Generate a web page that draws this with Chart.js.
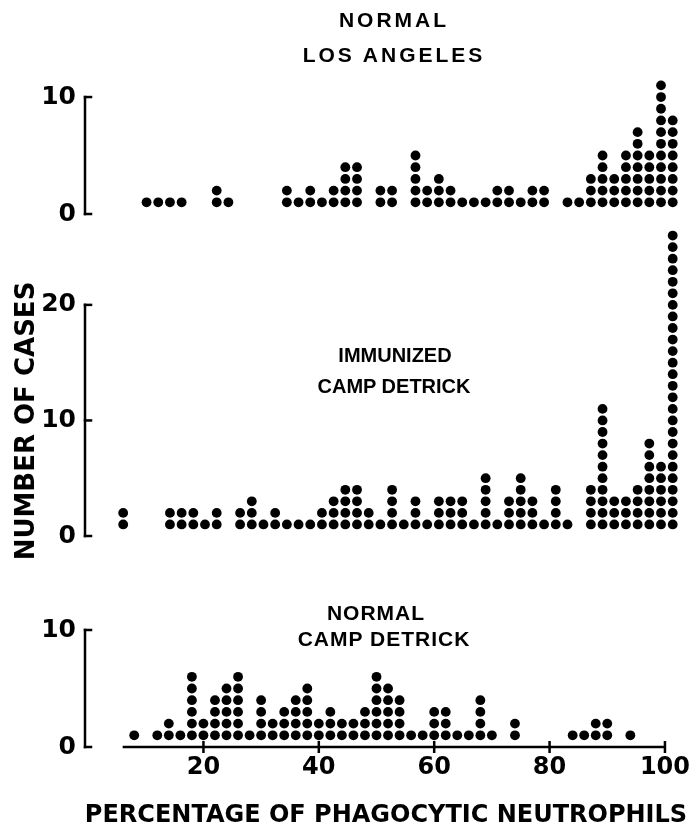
<!DOCTYPE html>
<html>
<head>
<meta charset="utf-8">
<script src="https://cdn.jsdelivr.net/npm/chart.js@4.4.0/dist/chart.umd.min.js"></script>
<style>
  html, body { margin: 0; padding: 0; background: #fff; }
  #page { position: relative; width: 696px; height: 827px; overflow: hidden; font-family: "DejaVu Sans", sans-serif; font-weight: bold; color: #000; }
  canvas { position: absolute; left: 0; }
  .lbl { position: absolute; width: 400px; text-align: center; font-family: "Liberation Sans", sans-serif; font-size: 21px; line-height: 24px; white-space: nowrap; }
  #xtitle { position: absolute; left: 0; width: 772px; top: 800px; text-align: center; font-size: 24px; line-height: 28px; white-space: nowrap; }
  #ytitle { position: absolute; left: -125px; top: 406px; width: 300px; height: 30px; line-height: 30px; text-align: center; font-size: 26px; white-space: nowrap; transform: rotate(-90deg); }
</style>
</head>
<body>
<div id="page">
  <canvas id="topChart" width="696" height="240" style="top:0px"></canvas>
  <canvas id="midChart" width="696" height="360" style="top:200px"></canvas>
  <canvas id="botChart" width="696" height="267" style="top:560px"></canvas>

  <div class="lbl" style="left:194px; top:8px; letter-spacing:3px">NORMAL</div>
  <div class="lbl" style="left:194px; top:43px; letter-spacing:3px">LOS ANGELES</div>
  <div class="lbl" style="left:195px; top:343px; font-size:20px">IMMUNIZED</div>
  <div class="lbl" style="left:194px; top:374px; font-size:20px">CAMP DETRICK</div>
  <div class="lbl" style="left:176px; top:601px; letter-spacing:1px">NORMAL</div>
  <div class="lbl" style="left:184px; top:627px; letter-spacing:1px">CAMP DETRICK</div>
  <div id="ytitle">NUMBER OF CASES</div>
  <div id="xtitle">PERCENTAGE OF PHAGOCYTIC NEUTROPHILS</div>
</div>

<script>
// percentage of phagocytic neutrophils (2% steps) and number of cases at each
const laPct   = [10, 12, 14, 16, 22, 24, 34, 36, 38, 40, 42, 44, 46, 50, 52, 56, 58, 60, 62, 64, 66, 68, 70, 72, 74, 76, 78, 82, 84, 86, 88, 90, 92, 94, 96, 98, 100];
const laCases = [ 1,  1,  1,  1,  2,  1,  2,  1,  2,  1,  2,  4,  4,  2,  2,  5,  2,  3,  2,  1,  1,  1,  2,  2,  1,  2,  2,  1,  1,  3,  5,  3,  5,  7,  5, 11,   8];

const immPct   = [6, 14, 16, 18, 20, 22, 26, 28, 30, 32, 34, 36, 38, 40, 42, 44, 46, 48, 50, 52, 54, 56, 58, 60, 62, 64, 66, 68, 70, 72, 74, 76, 78, 80, 82, 86, 88, 90, 92, 94, 96, 98, 100];
const immCases = [2,  2,  2,  2,  1,  2,  2,  3,  1,  2,  1,  1,  1,  2,  3,  4,  4,  2,  1,  4,  1,  3,  1,  3,  3,  3,  1,  5,  1,  3,  5,  3,  1,  4,  1,  4, 11,  3,  3,  4,  8,  6,  26];

const cdPct   = [8, 12, 14, 16, 18, 20, 22, 24, 26, 28, 30, 32, 34, 36, 38, 40, 42, 44, 46, 48, 50, 52, 54, 56, 58, 60, 62, 64, 66, 68, 70, 74, 84, 86, 88, 90, 94];
const cdCases = [1,  1,  2,  1,  6,  2,  4,  5,  6,  1,  4,  2,  3,  4,  5,  2,  3,  2,  2,  3,  6,  5,  4,  1,  1,  3,  3,  1,  1,  4,  1,  2,  1,  1,  2,  2,  1];

const xTicks = [20, 40, 60, 80, 100];
const xAxisFrom = 6;
const yTicksSmall = [0, 10];
const yTicksMid = [0, 10, 20];

Chart.defaults.font.family = "'DejaVu Sans', sans-serif";
Chart.defaults.font.weight = 'bold';
Chart.defaults.color = '#000';

// one dot per case, stacked upward
function dots(pct, cases) {
  const pts = [];
  pct.forEach((p, i) => {
    for (let k = 1; k <= cases[i]; k++) pts.push({ x: p, y: k });
  });
  return pts;
}

// y axis: line from 0 to the last tick, short ticks pointing inward
const yAxisLine = {
  id: 'yAxisLine',
  afterDraw(chart) {
    const { ctx, scales: { y } } = chart;
    const vals = y.ticks.map(t => t.value);
    const x0 = y.right;
    ctx.save();
    ctx.strokeStyle = '#000';
    ctx.lineWidth = 2.5;
    ctx.lineCap = 'square';
    ctx.beginPath();
    ctx.moveTo(x0, y.getPixelForValue(Math.min(...vals)));
    ctx.lineTo(x0, y.getPixelForValue(Math.max(...vals)));
    ctx.stroke();
    vals.forEach(v => {
      const py = y.getPixelForValue(v);
      ctx.beginPath();
      ctx.moveTo(x0, py);
      ctx.lineTo(x0 + 6, py);
      ctx.stroke();
    });
    ctx.restore();
  }
};

// bottom x axis line, starts at 6% like the original
const xLine = {
  id: 'xLine',
  afterDraw(chart) {
    const { ctx, scales: { x, y } } = chart;
    const py = y.getPixelForValue(0);
    ctx.save();
    ctx.strokeStyle = '#000';
    ctx.lineWidth = 2.5;
    ctx.beginPath();
    ctx.moveTo(x.getPixelForValue(xAxisFrom), py);
    ctx.lineTo(x.getPixelForValue(100), py);
    ctx.stroke();
    xTicks.forEach(v => {
      const px = x.getPixelForValue(v);
      ctx.beginPath();
      ctx.moveTo(px, py - 6);
      ctx.lineTo(px, py + 6);
      ctx.stroke();
    });
    ctx.restore();
  }
};

function makePanel(id, pct, cases, yTicks, yMax, pad, showX) {
  return new Chart(document.getElementById(id), {
    type: 'scatter',
    data: {
      datasets: [{
        data: dots(pct, cases),
        pointRadius: 4.9,
        pointBackgroundColor: '#000',
        pointBorderWidth: 0,
        clip: false
      }]
    },
    options: {
      responsive: false,
      animation: false,
      events: [],
      layout: { padding: pad },
      plugins: { legend: { display: false }, tooltip: { enabled: false } },
      scales: {
        x: {
          type: 'linear',
          min: -0.53,
          max: 100,
          display: showX,
          border: { display: false },
          grid: { display: false, drawTicks: false },
          afterBuildTicks: s => { s.ticks = xTicks.map(v => ({ value: v })); },
          afterFit: s => { if (showX) s.height = 50; },
          ticks: { font: { size: 24 }, padding: 6, maxRotation: 0, autoSkip: false }
        },
        y: {
          min: 0,
          max: yMax,
          border: { display: false },
          grid: { display: false, drawTicks: false },
          afterBuildTicks: s => { s.ticks = yTicks.map(v => ({ value: v })); },
          afterFit: s => { s.width = 85; },
          ticks: { font: { size: 25 }, padding: 9 }
        }
      }
    },
    plugins: showX ? [yAxisLine, xLine] : [yAxisLine]
  });
}

makePanel('topChart', laPct, laCases, yTicksSmall, 11.5, { top: 79.5, right: 23.3, bottom: 26, left: 0 }, false);
makePanel('midChart', immPct, immCases, yTicksMid, 27, { top: 23.5, right: 23.3, bottom: 22, left: 0 }, false);
makePanel('botChart', cdPct, cdCases, yTicksSmall, 10, { top: 70, right: 23.3, bottom: 30, left: 0 }, true);
</script>
</body>
</html>
